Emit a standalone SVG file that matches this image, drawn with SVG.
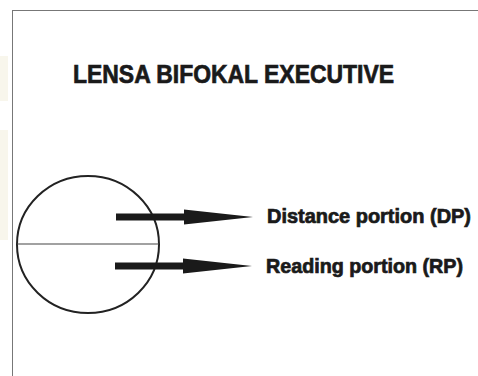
<svg xmlns="http://www.w3.org/2000/svg" width="478" height="376" viewBox="0 0 478 376">
<style>
.t{font-family:"Liberation Sans","DejaVu Sans",sans-serif;font-weight:bold;fill:#1a1a1a;stroke:#1a1a1a;stroke-width:0.7}
.ln{fill:none;stroke:#222;stroke-width:2}
</style>
<defs>
<g id="arrow"><rect x="0" y="-3.5" width="70" height="7" fill="#1a1a1a"/><polygon points="68,-7.5 137,0 68,7.5" fill="#1a1a1a"/></g>
</defs>
<rect width="478" height="376" fill="#fff"/>
<rect x="0" y="56" width="8" height="45" fill="#f8f6ec"/>
<rect x="0" y="130" width="8" height="110" fill="#f8f6ec"/>
<rect x="12.5" y="10.5" width="480" height="380" fill="none" stroke="#777" stroke-width="1"/>
<text class="t" x="73" y="83" font-size="25" textLength="321" lengthAdjust="spacingAndGlyphs">LENSA BIFOKAL EXECUTIVE</text>
<g id="lens">
<ellipse class="ln" cx="88" cy="244.5" rx="71" ry="68.5"/>
<line x1="17" y1="244" x2="159" y2="244" stroke="#444" stroke-width="1.2"/>
</g>
<g id="connectors">
<use href="#arrow" x="116" y="217"/>
<use href="#arrow" x="115" y="266"/>
</g>
<g id="dp"><text class="t" x="267" y="223" font-size="19.5" textLength="204" lengthAdjust="spacingAndGlyphs">Distance portion (DP)</text></g>
<g id="rp"><text class="t" x="266" y="273" font-size="19.5" textLength="197" lengthAdjust="spacingAndGlyphs">Reading portion (RP)</text></g>
</svg>
